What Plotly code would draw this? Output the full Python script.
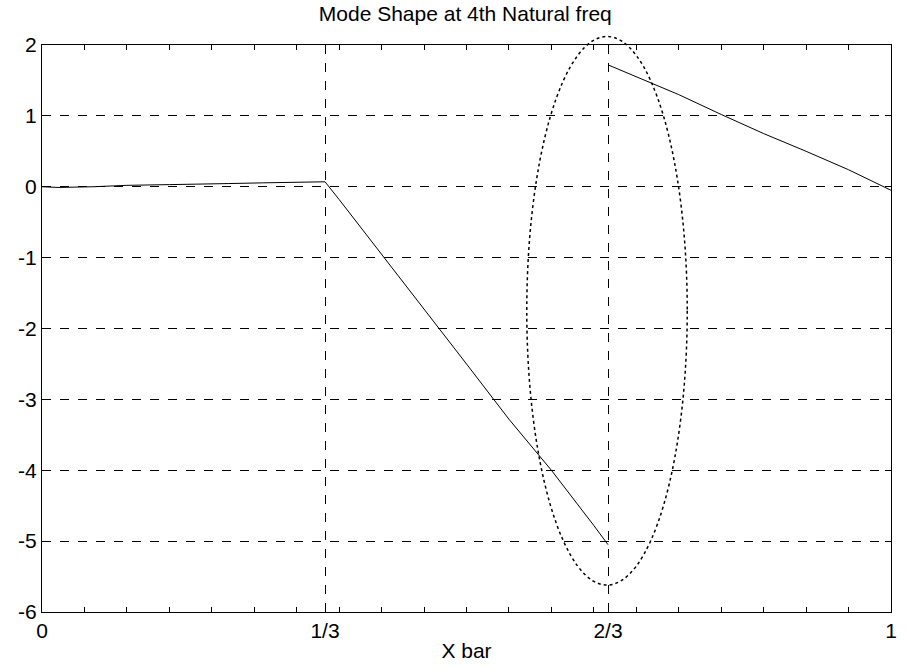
import plotly.graph_objects as go

# Mode shape data (three beam segments, break at x=2/3)
seg1_x = [0.0, 0.02, 0.06, 0.10, 0.15, 0.18, 0.22, 0.26, 0.30, 1/3]
seg1_y = [0.0, -0.01, 0.0, 0.02, 0.03, 0.04, 0.045, 0.055, 0.06, 0.07]
seg2_x = [1/3, 0.35, 0.40, 0.45, 0.50, 0.55, 0.60, 0.65, 2/3]
seg2_y = [0.07, -0.18, -0.95, -1.72, -2.50, -3.28, -4.00, -4.78, -5.05]
seg3_x = [2/3, 0.70, 0.75, 0.80, 0.85, 0.90, 0.95, 1.0]
seg3_y = [1.72, 1.55, 1.30, 1.02, 0.75, 0.50, 0.24, -0.05]

x_tickvals = [0, 1/3, 2/3, 1]
x_ticktext = ["0", "1/3", "2/3", "1"]
y_tickvals = [2, 1, 0, -1, -2, -3, -4, -5, -6]
y_ticktext = ["2", "1", "0", "-1", "-2", "-3", "-4", "-5", "-6"]
minor_x = [0.05 * i for i in range(1, 20)]

# highlighted region (ellipse), in data units
ell_x0, ell_x1 = 0.571, 0.760
ell_y0, ell_y1 = -5.62, 2.12

x_range = [0, 1]
y_range = [-6, 2]

x_all = seg1_x + seg2_x + [None] + seg3_x
y_all = seg1_y + seg2_y + [None] + seg3_y

fig = go.Figure()
fig.add_trace(go.Scatter(x=x_all, y=y_all, mode="lines",
                         line=dict(color="black", width=1), showlegend=False,
                         connectgaps=False))

def py(v):
    return (v - y_range[0]) / (y_range[1] - y_range[0])

fig.add_shape(type="circle", xref="paper", yref="paper",
              x0=ell_x0, x1=ell_x1, y0=py(ell_y0), y1=py(ell_y1),
              line=dict(color="black", width=1.5, dash="dot"))

FAM = "Liberation Sans, Arial, sans-serif"
tickfont = dict(family=FAM, color="black", size=21)

fig.update_layout(
    width=907, height=671,
    margin=dict(l=42, r=10, t=45, b=59),
    paper_bgcolor="white", plot_bgcolor="white",
    font=dict(family=FAM, color="black", size=21),
    title=dict(text="Mode Shape at 4th Natural freq", x=0.513, xanchor="center",
               y=1 - 14/671, yanchor="middle",
               font=dict(family=FAM, size=21, color="black")),
    xaxis=dict(range=x_range, tickvals=x_tickvals, ticktext=x_ticktext,
               showline=True, linecolor="black", linewidth=1, mirror="allticks",
               ticks="inside", ticklen=8, tickcolor="black",
               showgrid=True, gridcolor="black", griddash="dash", gridwidth=1,
               zeroline=False,
               minor=dict(tickvals=minor_x, ticks="inside", ticklen=5,
                          tickcolor="black", showgrid=False),
               title=dict(text="X bar", standoff=2,
                          font=dict(family=FAM, size=21, color="black")),
               tickfont=tickfont),
    yaxis=dict(range=y_range, tickvals=y_tickvals, ticktext=y_ticktext,
               showline=True, linecolor="black", linewidth=1, mirror="allticks",
               ticks="inside", ticklen=6, tickcolor="black",
               showgrid=True, gridcolor="black", griddash="dash", gridwidth=1,
               zeroline=False, tickfont=tickfont),
)

fig.write_html("out.html")
